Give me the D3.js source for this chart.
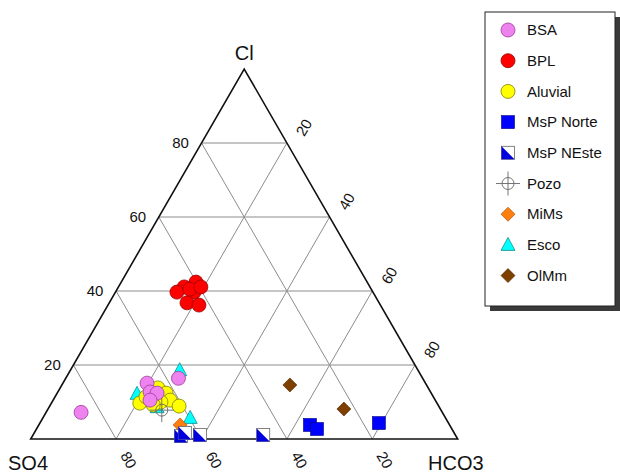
<!DOCTYPE html>
<html>
<head>
<meta charset="utf-8">
<script src="https://cdn.jsdelivr.net/npm/d3@7"></script>
<style>
  body { margin: 0; background: #fff; }
  text { font-family: "Liberation Sans", Arial, sans-serif; fill: #111; }
</style>
</head>
<body>
<script>
// samples as [Cl, HCO3, SO4] in %
var bsa = [[7.2, 8.2, 84.6], [16.4, 26.4, 57.2], [15.1, 19.7, 65.2], [12.7, 21.6, 65.7], [12.4, 23.4, 64.2], [10.5, 22.7, 66.8]];
var bpl = [[41.1, 15.4, 43.5], [42.4, 17.5, 40.1], [39.7, 14.4, 45.9], [39.7, 18.4, 41.9], [40.5, 17.0, 42.5], [36.8, 18.2, 45.0], [36.2, 21.3, 42.5], [41.1, 19.3, 39.6]];
var aluvial = [[9.7, 20.7, 69.6], [11.4, 21.3, 67.3], [13.8, 22.9, 63.3], [12.4, 25.5, 62.1], [10.5, 27.4, 62.1], [8.9, 30.3, 60.8], [10.0, 25.5, 64.5], [9.2, 24.1, 66.7]];
var mspNorte = [[3.8, 63.5, 32.7], [2.7, 65.7, 31.6], [4.3, 79.4, 16.3]];
var mspNEste = [[0.8, 34.8, 64.4], [1.6, 35.3, 63.1], [1.1, 39.1, 59.8], [1.1, 53.9, 45.0]];
var pozo = [[7.8, 26.8, 65.4]];
var mims = [[3.8, 33.1, 63.1]];
var esco = [[18.6, 25.6, 55.8], [5.7, 34.5, 59.8], [12.2, 18.8, 69.0], [8.6, 25.3, 66.1]];
var olmm = [[14.6, 53.4, 32.0], [8.1, 69.3, 22.6]];

var ticks = [20, 40, 60, 80];

var groups = [
  { name: "BSA", data: bsa, sym: "circle", fill: "#ee82ee", stroke: "#9b3d9b" },
  { name: "BPL", data: bpl, sym: "circle", fill: "#ff0000", stroke: "#9a0000" },
  { name: "Aluvial", data: aluvial, sym: "circle", fill: "#ffff00", stroke: "#7f7f00" },
  { name: "MsP Norte", data: mspNorte, sym: "square", fill: "#0000ff", stroke: "#00007f" },
  { name: "MsP NEste", data: mspNEste, sym: "halfsquare", fill: "#0000dd", stroke: "#666" },
  { name: "Pozo", data: pozo, sym: "cross", fill: "none", stroke: "#666" },
  { name: "MiMs", data: mims, sym: "diamond", fill: "#ff7f0e", stroke: "#a04800" },
  { name: "Esco", data: esco, sym: "triangle", fill: "#00ffff", stroke: "#008080" },
  { name: "OlMm", data: olmm, sym: "diamond", fill: "#7f3f00", stroke: "#4a2400" }
];
// drawing order of the samples in the plot
var drawOrder = ["Esco", "MiMs", "MsP Norte", "MsP NEste", "Aluvial", "BSA", "BPL", "Pozo", "OlMm"];

var svg = d3.select("body").append("svg")
  .attr("width", 620)
  .attr("height", 475);

// ternary: x from HCO3 + Cl/2, y from Cl
var xs = d3.scaleLinear().domain([0, 100]).range([30.7, 457.7]);
var ys = d3.scaleLinear().domain([0, 100]).range([439, 69]);
function px(cl, hco3) { return [xs(hco3 + cl / 2), ys(cl)]; }

// grid
var grid = svg.append("g").attr("stroke", "#8c8c8c").attr("stroke-width", 1);
ticks.forEach(function (v) {
  var segs = [
    [px(v, 0), px(v, 100 - v)],            // Cl constant
    [px(0, 100 - v), px(100 - v, 0)],      // SO4 constant
    [px(0, v), px(100 - v, v)]             // HCO3 constant
  ];
  segs.forEach(function (s) {
    grid.append("line")
      .attr("x1", s[0][0]).attr("y1", s[0][1])
      .attr("x2", s[1][0]).attr("y2", s[1][1]);
  });
});

// outline
var A = px(0, 0), B = px(0, 100), C = px(100, 0);
svg.append("path")
  .attr("d", "M" + A + "L" + B + "L" + C + "Z")
  .attr("fill", "none")
  .attr("stroke", "#111")
  .attr("stroke-width", 1.6);

// tick labels
ticks.forEach(function (v) {
  var p = px(v, 0);
  svg.append("text").attr("x", p[0] - 21).attr("y", p[1]).attr("dy", "0.35em")
    .attr("text-anchor", "middle").style("font-size", "15px").text(v);
  var q = px(0, 100 - v);
  svg.append("text")
    .attr("transform", "translate(" + (q[0] + 12.5) + "," + (q[1] + 21) + ") rotate(60)")
    .attr("dy", "0.35em").attr("text-anchor", "middle").style("font-size", "15px").text(v);
  var r = px(100 - v, v);
  svg.append("text")
    .attr("transform", "translate(" + (r[0] + 17) + "," + (r[1] - 15.5) + ") rotate(-60)")
    .attr("dy", "0.35em").attr("text-anchor", "middle").style("font-size", "15px").text(v);
});

// vertex labels
svg.append("text").attr("x", C[0]).attr("y", 60).attr("text-anchor", "middle")
  .style("font-size", "20px").text("Cl");
svg.append("text").attr("x", 8).attr("y", 470).style("font-size", "20px").text("SO4");
svg.append("text").attr("x", 428).attr("y", 470).style("font-size", "20px").text("HCO3");

function drawSymbol(g, grp) {
  var s = grp.sym;
  if (s === "circle") {
    g.append("circle").attr("r", 7).attr("fill", grp.fill).attr("stroke", grp.stroke).attr("stroke-width", 0.8);
  } else if (s === "square") {
    g.append("rect").attr("x", -6.5).attr("y", -6.5).attr("width", 13).attr("height", 13)
      .attr("fill", grp.fill).attr("stroke", grp.stroke).attr("stroke-width", 0.6);
  } else if (s === "halfsquare") {
    g.append("rect").attr("x", -6.5).attr("y", -6.5).attr("width", 13).attr("height", 13)
      .attr("fill", "#fff").attr("stroke", grp.stroke).attr("stroke-width", 0.8);
    g.append("path").attr("d", "M-6.5,-6.5L6.5,6.5L-6.5,6.5Z").attr("fill", grp.fill);
  } else if (s === "cross") {
    g.append("circle").attr("r", 6).attr("fill", "none").attr("stroke", grp.stroke).attr("stroke-width", 0.9);
    g.append("path").attr("d", "M-12,0H12M0,-12V12").attr("stroke", grp.stroke).attr("stroke-width", 0.9);
  } else if (s === "diamond") {
    g.append("path").attr("d", "M0,-7L7,0L0,7L-7,0Z")
      .attr("fill", grp.fill).attr("stroke", grp.stroke).attr("stroke-width", 0.6);
  } else if (s === "triangle") {
    g.append("path").attr("d", "M0,-7.5L7,5.5L-7,5.5Z")
      .attr("fill", grp.fill).attr("stroke", grp.stroke).attr("stroke-width", 0.7);
  }
}

// points
var pts = svg.append("g");
drawOrder.forEach(function (name) {
  var grp = groups.find(function (d) { return d.name === name; });
  pts.selectAll(null).data(grp.data).enter().append("g")
    .attr("transform", function (d) { var p = px(d[0], d[1]); return "translate(" + p[0] + "," + p[1] + ")"; })
    .each(function () { drawSymbol(d3.select(this), grp); });
});

// legend
var leg = svg.append("g");
leg.append("rect").attr("x", 490).attr("y", 17).attr("width", 130).attr("height", 294).attr("fill", "#3a3a3a");
leg.append("rect").attr("x", 485).attr("y", 12).attr("width", 130).attr("height", 294)
  .attr("fill", "#fff").attr("stroke", "#222").attr("stroke-width", 1);
groups.forEach(function (grp, i) {
  var y = 30 + i * 30.7;
  var g = leg.append("g").attr("transform", "translate(508," + y + ")");
  drawSymbol(g, grp);
  leg.append("text").attr("x", 527).attr("y", y).attr("dy", "0.35em")
    .style("font-size", "15px").text(grp.name);
});
</script>
</body>
</html>
